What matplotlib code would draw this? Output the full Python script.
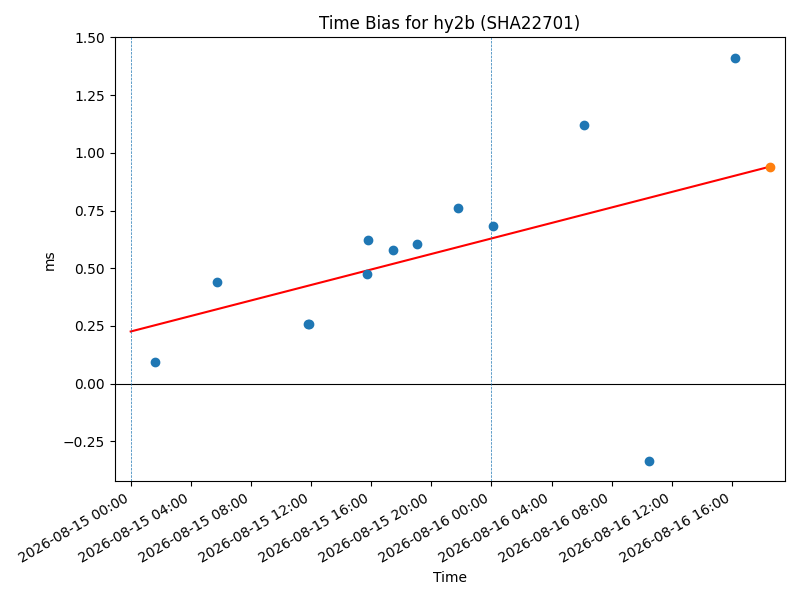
import matplotlib
matplotlib.use("Agg")
import matplotlib.pyplot as plt
import matplotlib.dates as mdates
import pandas as pd

bias_times = ["2026-08-15 01:38", "2026-08-15 05:44", "2026-08-15 11:48", "2026-08-15 11:53",
              "2026-08-15 15:44", "2026-08-15 15:47", "2026-08-15 17:28", "2026-08-15 19:04",
              "2026-08-15 21:48", "2026-08-16 00:08", "2026-08-16 06:08", "2026-08-16 10:31",
              "2026-08-16 16:12"]
bias_ms = [0.095, 0.440, 0.259, 0.260, 0.474, 0.621, 0.578, 0.603, 0.763, 0.682, 1.121, -0.336, 1.411]

predict_time = ["2026-08-16 18:32"]
predict_ms = [0.940]

fit_times = ["2026-08-15 00:00", "2026-08-16 18:32"]
fit_ms = [0.226, 0.940]

day_marks = ["2026-08-15 00:00", "2026-08-16 00:00"]

t = pd.to_datetime(bias_times)
tp = pd.to_datetime(predict_time)
tf = pd.to_datetime(fit_times)

fig, ax = plt.subplots(figsize=(8, 6), dpi=100)
ax.scatter(t, bias_ms, color="C0", zorder=3)
ax.plot(tf, fit_ms, color="red")
ax.scatter(tp, predict_ms, color="C1", zorder=3)
ax.axhline(0, color="black", linewidth=0.8)
for d in pd.to_datetime(day_marks):
    ax.axvline(d, color="#1f77b4", linestyle="--", linewidth=0.5)

ax.set_xlim(pd.Timestamp("2026-08-14 22:56"), pd.Timestamp("2026-08-16 19:32"))
ax.set_ylim(-0.423, 1.5)
ax.xaxis.set_major_locator(mdates.HourLocator(byhour=range(0, 24, 4)))
ax.xaxis.set_major_formatter(mdates.DateFormatter("%Y-%m-%d %H:%M"))

ax.set_title("Time Bias for hy2b (SHA22701)")
ax.set_xlabel("Time")
ax.set_ylabel("ms")
fig.autofmt_xdate()
fig.tight_layout()
fig.savefig("out.png")
